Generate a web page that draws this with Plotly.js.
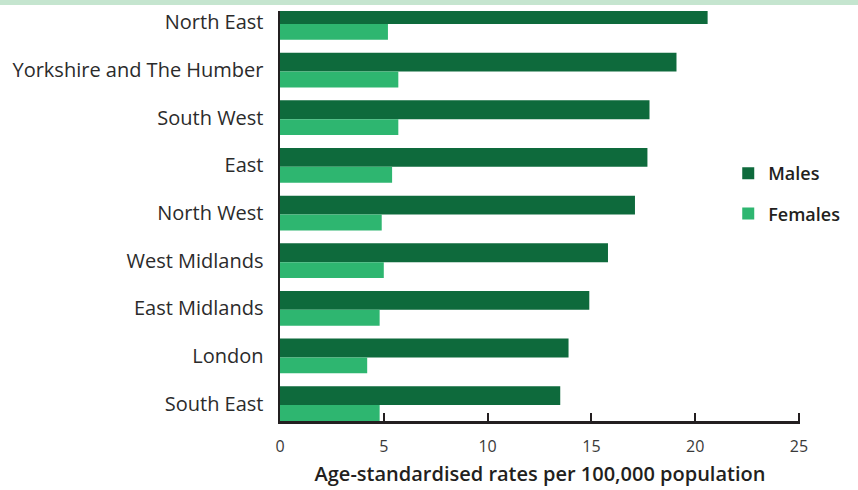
<!DOCTYPE html>
<html>
<head>
<meta charset="utf-8">
<script src="https://cdn.plot.ly/plotly-3.0.1.min.js"></script>
<style>
html,body{margin:0;padding:0;background:#fff;}
#chart{width:858px;height:490px;position:absolute;left:0;top:0;}
#band{position:absolute;left:0;top:0;width:858px;height:5px;background:#c5e5cf;z-index:10;}
</style>
</head>
<body>
<div id="chart"></div>
<div id="band"></div>
<script>
// Data, top to bottom as in the chart
var regions = ["North East", "Yorkshire and The Humber", "South West", "East", "North West",
               "West Midlands", "East Midlands", "London", "South East"];
var males   = [20.6, 19.1, 17.8, 17.7, 17.1, 15.8, 14.9, 13.9, 13.5];
var females = [5.2, 5.7, 5.7, 5.4, 4.9, 5.0, 4.8, 4.2, 4.8];
var xTicks = [0, 5, 10, 15, 20, 25];
var xTitle = "Age-standardised rates per 100,000 population";

var cats = regions.slice().reverse();
var m = males.slice().reverse();
var f = females.slice().reverse();

var font = "Open Sans, sans-serif";
var maleTrace = {
  type: "bar", orientation: "h", name: "Males",
  y: cats, x: m,
  width: 0.3966, offset: -0.0313,
  marker: {color: "#0e6a3c"},
  legendgroup: "a",
  hoverinfo: "x+y+name"
};
var femaleTrace = {
  type: "bar", orientation: "h", name: "Females",
  y: cats, x: f,
  width: 0.334, offset: -0.3646,
  marker: {color: "#2eb670"},
  legendgroup: "b",
  hoverinfo: "x+y+name"
};

var layout = {
  width: 858, height: 490,
  margin: {l: 280, r: 58, t: 11, b: 69},
  paper_bgcolor: "#fff", plot_bgcolor: "#fff",
  barmode: "overlay",
  font: {family: font, color: "#231f20"},
  showlegend: true,
  legend: {
    x: 0.862, xanchor: "left", y: 0.555, yanchor: "middle",
    traceorder: "grouped", tracegroupgap: 14,
    font: {family: font, size: 18, color: "#231f20", weight: 600},
    bgcolor: "rgba(0,0,0,0)"
  },
  xaxis: {
    range: [0, 25.05], tickvals: xTicks, ticktext: xTicks.map(String),
    showgrid: false, zeroline: false,
    showline: true, linecolor: "#231f20", linewidth: 2.5,
    ticks: "inside", ticklen: 8, tickwidth: 2, tickcolor: "#231f20",
    ticklabelstandoff: 9,
    tickfont: {family: font, size: 16, color: "#3a3a3a"},
    title: {text: xTitle, font: {family: font, size: 20, color: "#231f20", weight: 600}, standoff: 12}
  },
  yaxis: {
    type: "category", range: [-0.3646, 8.24],
    showgrid: false, zeroline: false,
    showline: true, linecolor: "#231f20", linewidth: 2.5,
    ticks: "outside", ticklen: 10, tickcolor: "rgba(0,0,0,0)",
    tickfont: {family: font, size: 20, color: "#2b2b2b"}
  }
};

Plotly.newPlot("chart", [maleTrace, femaleTrace], layout, {displayModeBar: false, staticPlot: true});
</script>
</body>
</html>
